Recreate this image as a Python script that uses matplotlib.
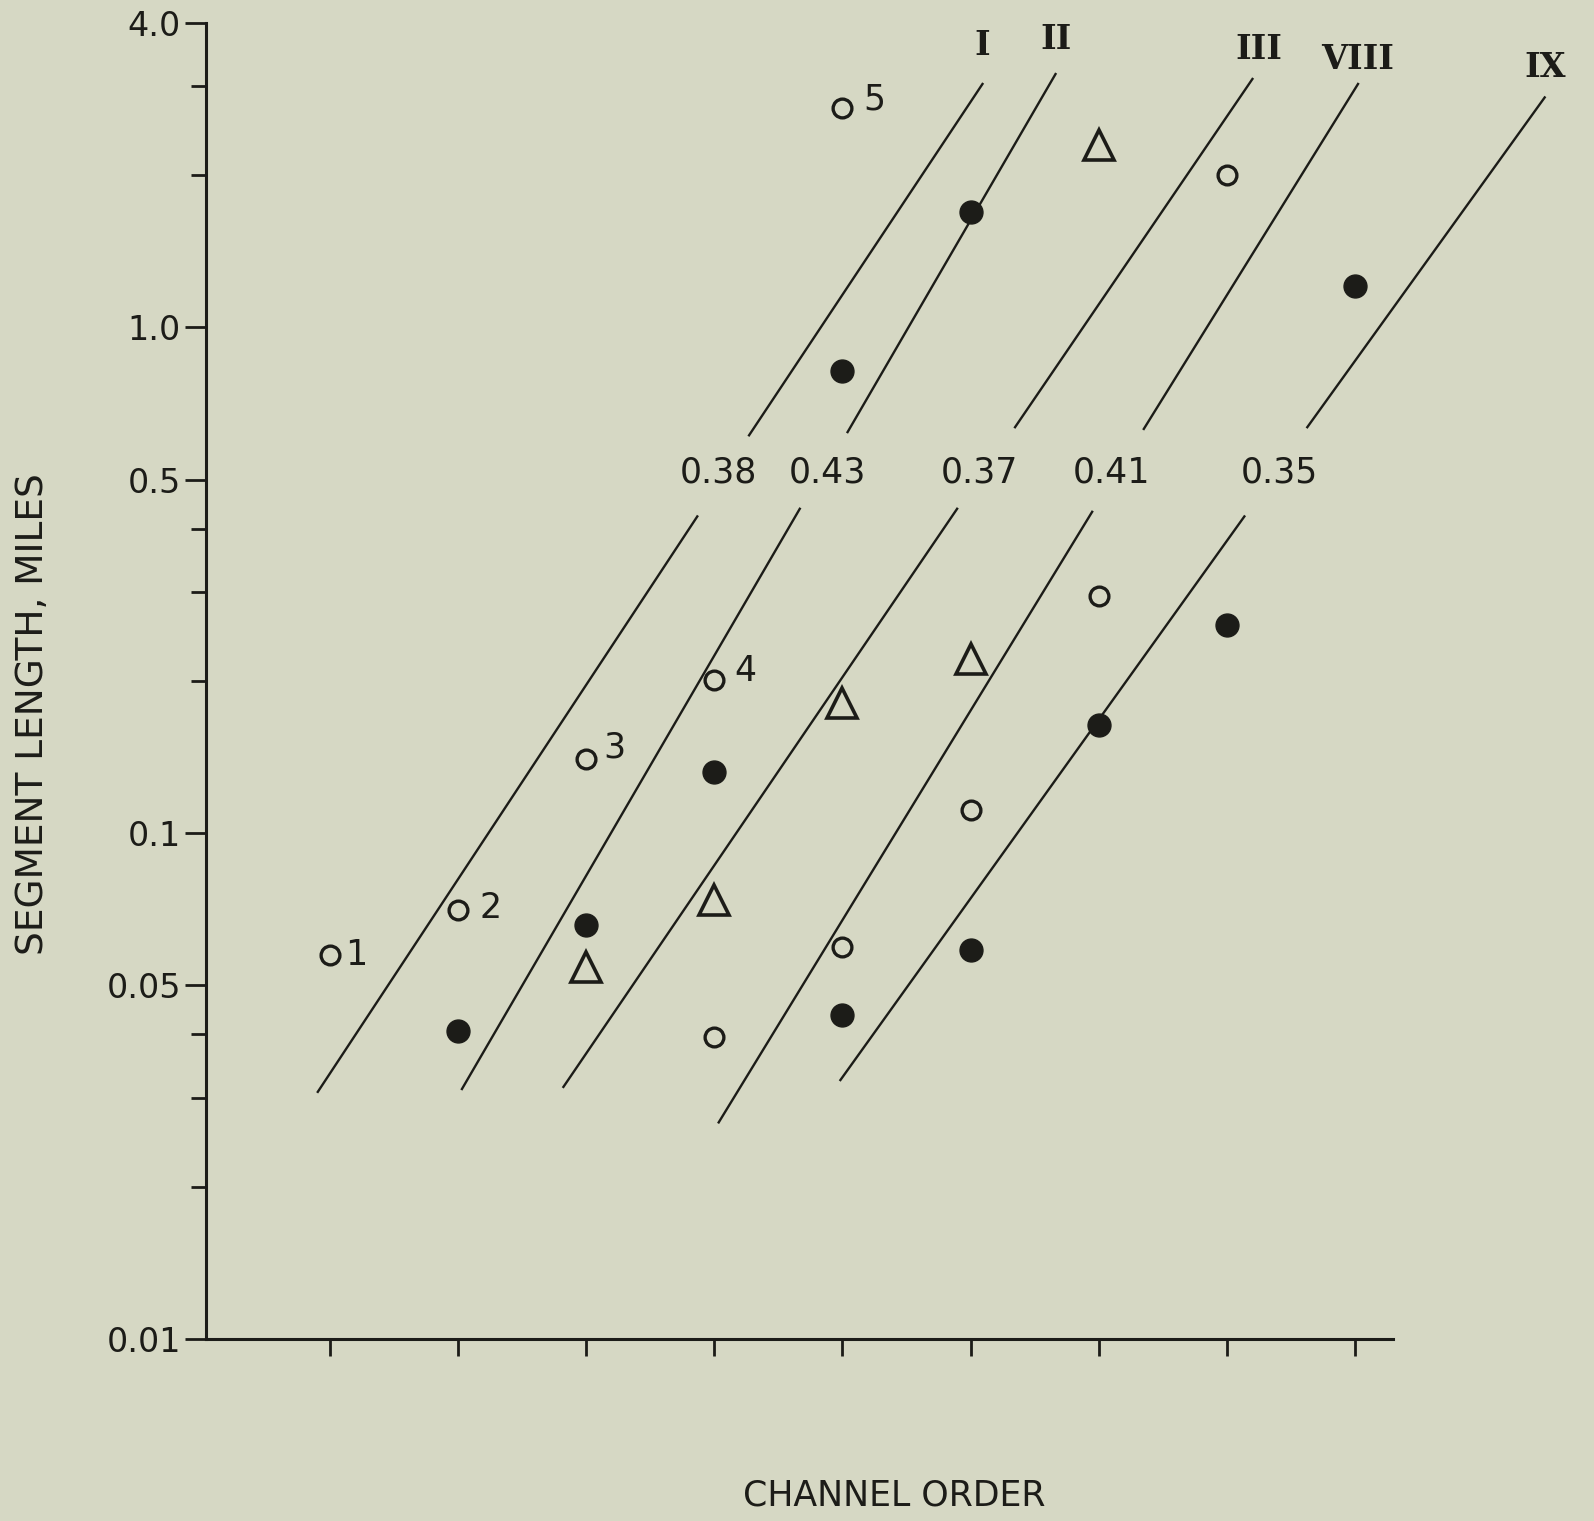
import matplotlib
matplotlib.use("Agg")
import matplotlib.pyplot as plt
from matplotlib.ticker import NullFormatter

# channel order positions on the x axis
orders = [1, 2, 3, 4, 5, 6, 7, 8, 9]

# open circles numbered 1-5
num_x = [1, 2, 3, 4, 5]
num_y = [0.0574, 0.0706, 0.140, 0.201, 2.72]
num_labels = ["1", "2", "3", "4", "5"]

# filled circles
filled_x = [2, 3, 4, 5, 6, 5, 6, 7, 8, 9]
filled_y = [0.0407, 0.0659, 0.132, 0.822, 1.69, 0.0438, 0.0587, 0.164, 0.258, 1.21]

# small open circles
open_x = [4, 5, 6, 7, 8]
open_y = [0.0396, 0.0596, 0.111, 0.294, 2.0]

# triangles
tri_x = [3, 4, 5, 6, 7]
tri_y = [0.0543, 0.0739, 0.181, 0.221, 2.29]

# fitted lines, each broken in two pieces around the slope label
line_names = ["I", "II", "III", "VIII", "IX"]
line_slopes = ["0.38", "0.43", "0.37", "0.41", "0.35"]
lower_x = [[0.905, 3.867], [2.030, 4.667], [2.822, 5.895], [4.034, 6.949], [4.984, 8.137]]
lower_y = [[0.0308, 0.423], [0.0312, 0.438], [0.0315, 0.438], [0.0268, 0.432], [0.0325, 0.423]]
upper_x = [[4.271, 6.093], [5.040, 6.663], [6.347, 8.200], [7.352, 9.024], [8.628, 10.481]]
upper_y = [[0.612, 3.03], [0.621, 3.17], [0.635, 3.10], [0.630, 3.03], [0.635, 2.85]]

y_major = [0.01, 0.05, 0.1, 0.5, 1.0, 4.0]
y_major_labels = ["0.01", "0.05", "0.1", "0.5", "1.0", "4.0"]
y_minor = [0.02, 0.03, 0.04, 0.2, 0.3, 0.4, 2, 3]

BG = "#d6d8c4"
INK = "#1c1c18"

plt.rcParams["font.family"] = "DejaVu Sans"

fig = plt.figure(figsize=(15.94, 15.21), dpi=100, facecolor=BG)
ax = fig.add_axes([0.1292, 0.1197, 0.7447, 0.8652])
ax.set_facecolor(BG)

ax.set_yscale("log")
ax.set_ylim(0.01, 4.0)
ax.set_xlim(0.032, 9.297)

# regression lines
for i in range(len(line_names)):
    ax.plot(lower_x[i], lower_y[i], color=INK, lw=1.7, clip_on=False)
    ax.plot(upper_x[i], upper_y[i], color=INK, lw=1.7, clip_on=False)

# label offsets in pixels
slope_off = [(21, 44), (28, 36), (22, 36), (19, 39), (35, 44)]
name_off = [(0, 38), (0, 35), (6, 29), (0, 24), (0, 30)]
for i in range(len(line_names)):
    ax.annotate(line_slopes[i], (lower_x[i][1], lower_y[i][1]), xytext=slope_off[i],
                textcoords="offset pixels", ha="center", va="center",
                fontsize=25, color=INK, annotation_clip=False)
    ax.annotate(line_names[i], (upper_x[i][1], upper_y[i][1]), xytext=name_off[i],
                textcoords="offset pixels", ha="center", va="center",
                fontsize=24, fontweight="bold", family="DejaVu Serif",
                color=INK, annotation_clip=False)

# markers
ax.plot(filled_x, filled_y, "o", ms=16.5, color=INK, mec=INK, ls="none")
ax.plot(open_x, open_y, "o", ms=13.5, mfc="none", mec=INK, mew=2.4, ls="none")
ax.plot(num_x, num_y, "o", ms=13.5, mfc="none", mec=INK, mew=2.4, ls="none")
ax.plot(tri_x, tri_y, "^", ms=21, mfc="none", mec=INK, mew=2.6, ls="none")

num_off = [(26, 0), (32, 2), (28, 12), (31, 9), (32, 8)]
for x, y, lbl, off in zip(num_x, num_y, num_labels, num_off):
    ax.annotate(lbl, (x, y), xytext=off, textcoords="offset pixels",
                ha="center", va="center", fontsize=25, color=INK)

# axes styling
for s in ["top", "right"]:
    ax.spines[s].set_visible(False)
for s in ["left", "bottom"]:
    ax.spines[s].set_linewidth(2.2)
    ax.spines[s].set_color(INK)

ax.set_xticks(orders)
ax.set_xticklabels([])
ax.tick_params(axis="x", length=12, width=2, color=INK, direction="out")

ax.set_yticks(y_major)
ax.set_yticklabels(y_major_labels)
ax.set_yticks(y_minor, minor=True)
ax.yaxis.set_minor_formatter(NullFormatter())
ax.tick_params(axis="y", which="major", length=15, width=2, color=INK,
               labelsize=24, labelcolor=INK, pad=3)
ax.tick_params(axis="y", which="minor", length=11, width=2, color=INK)

ax.set_ylabel("SEGMENT LENGTH, MILES", fontsize=27, color=INK, va="center")
ax.yaxis.set_label_coords(-0.146, 0.475)
ax.set_xlabel("CHANNEL ORDER", fontsize=25, color=INK, va="center")
ax.xaxis.set_label_coords(0.580, -0.119)

fig.savefig("out.png", dpi=100, facecolor=BG)
